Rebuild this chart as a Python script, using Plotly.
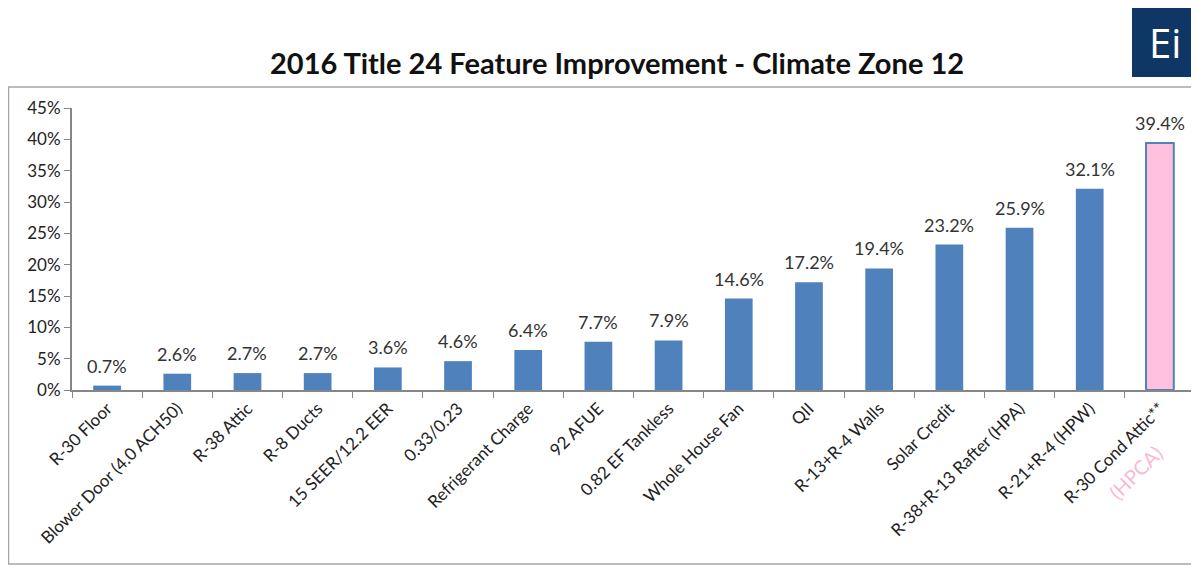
import plotly.graph_objects as go

categories = ["R-30 Floor", "Blower Door (4.0 ACH50)", "R-38 Attic", "R-8 Ducts",
              "15 SEER/12.2 EER", "0.33/0.23", "Refrigerant Charge", "92 AFUE",
              "0.82 EF Tankless", "Whole House Fan", "QII", "R-13+R-4 Walls",
              "Solar Credit", "R-38+R-13 Rafter (HPA)", "R-21+R-4 (HPW)",
              "R-30 Cond Attic**"]
values = [0.007, 0.026, 0.027, 0.027, 0.036, 0.046, 0.064, 0.077, 0.079,
          0.146, 0.172, 0.194, 0.232, 0.259, 0.321, 0.394]
y_ticks = [0, 0.05, 0.10, 0.15, 0.20, 0.25, 0.30, 0.35, 0.40, 0.45]
title_text = "2016 Title 24 Feature Improvement - Climate Zone 12"
extra_label = "(HPCA)"

BLUE = "#4F81BD"
PINK = "#FFC1DD"
FONT = "Lato"

# page body adds an 8px offset; work in screen coordinates and convert
OFF = 8
W, H = 1199 - OFF, 566 - OFF
L, R, T, B = 72 - OFF, 4, 108 - OFF, 176
pw, ph = W - L - R, H - T - B

def px_x(x):
    return (x - OFF - L) / pw

def px_y(y):
    return (H - B - (y - OFF)) / ph

n = len(categories)
fill = [BLUE] * (n - 1) + [PINK]
lw = [0] * (n - 1) + [2]

fig = go.Figure()
fig.add_trace(go.Bar(
    x=categories, y=values, width=0.395,
    marker=dict(color=fill, line=dict(color=BLUE, width=lw)),
    hoverinfo="skip",
))

for c, v in zip(categories, values):
    fig.add_annotation(x=c, y=v, xref="x", yref="y", text=f"{v*100:.1f}%",
                       showarrow=False, xanchor="center", yanchor="bottom", yshift=7,
                       font=dict(family=FONT, size=18, color="#333333"))

fig.add_annotation(x=categories[-1], y=0, xref="x", yref="paper", yshift=-82, xshift=-24,
                   xanchor="center", yanchor="middle",
                   text=extra_label, showarrow=False, textangle=-45,
                   font=dict(family=FONT, size=20, color="#FBB8D6"))

# title
fig.add_annotation(x=px_x(617), y=px_y(62), xref="paper", yref="paper",
                   xanchor="center", yanchor="middle",
                   text=f"<b>{title_text}</b>", showarrow=False,
                   font=dict(family=FONT, size=29, color="#111111"))

# logo
fig.add_shape(type="rect", xref="paper", yref="paper",
              x0=px_x(1132), x1=px_x(1198), y0=px_y(77), y1=px_y(6),
              fillcolor="#0F3766", line=dict(width=0), layer="above")
fig.add_annotation(x=px_x(1165), y=px_y(43), xref="paper", yref="paper",
                   xanchor="center", yanchor="middle",
                   text="Ei", showarrow=False,
                   font=dict(family="Open Sans", size=40, color="white"))

# border box
fig.add_shape(type="rect", xref="paper", yref="paper",
              x0=px_x(8.5), x1=px_x(1198), y0=px_y(564), y1=px_y(87),
              line=dict(color="#A6A6A6", width=1.5), fillcolor="rgba(0,0,0,0)",
              layer="below")

fig.update_layout(
    width=W, height=H,
    margin=dict(l=L, r=R, t=T, b=B, autoexpand=False),
    paper_bgcolor="white", plot_bgcolor="white",
    showlegend=False,
    font=dict(family=FONT, size=15, color="#222222"),
)
fig.update_xaxes(
    type="category", showline=True, linecolor="#868686", linewidth=2,
    ticks="outside", tickson="boundaries", ticklen=6, tickcolor="#868686",
    tickangle=-45, tickfont=dict(family=FONT, size=17, color="#222222"),
    showgrid=False, zeroline=False, automargin=False,
)
fig.update_yaxes(
    range=[0, 0.45], tickvals=y_ticks, tickformat=".0%",
    showline=True, linecolor="#868686", linewidth=2,
    ticks="outside", ticklen=6, tickcolor="#868686",
    tickfont=dict(family=FONT, size=17, color="#222222"),
    showgrid=False, zeroline=False, automargin=False,
)

fig.write_html("out.html")
